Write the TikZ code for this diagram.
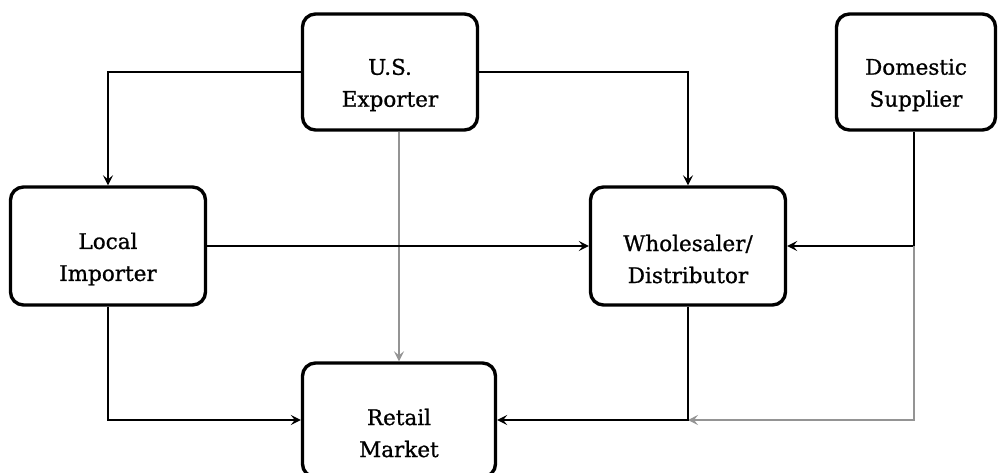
\documentclass[tikz,border=0pt]{standalone}
\usepackage{fontspec}
\setmainfont{DejaVu Serif}
\newfontfamily\lblfont{DejaVu Serif}[FakeBold=0.9]
\usetikzlibrary{arrows.meta,calc}
\begin{document}
\begin{tikzpicture}[x=1pt,y=-1pt,
  box/.style={draw=black,line width=3.4pt,rounded corners=13pt,fill=white,inner sep=0pt},
  lbl/.style={align=center,font=\lblfont\fontsize{21.5}{32}\selectfont,inner sep=0pt},
  tip/.style={-{Stealth[length=10pt,width=10pt,inset=4pt]}},
  conn/.style={draw=black,line width=1.4pt},
  faint/.style={draw=black!42,line width=1.2pt},
  heavy/.style={draw=black,line width=2.8pt}]
\useasboundingbox (0,0) rectangle (999,472);
% boxes
\node[box,minimum width=175pt,minimum height=116pt] (exp) at (390,72) {};
\node[box,minimum width=159pt,minimum height=116pt] (dom) at (916,72) {};
\node[box,minimum width=195pt,minimum height=118pt] (imp) at (108,246) {};
\node[box,minimum width=195pt,minimum height=118pt] (whl) at (688,246) {};
\node[box,minimum width=193pt,minimum height=114pt] (ret) at (399,420) {};
% labels
\node[lbl] (expT) at ([yshift=-13pt]exp.center) {U.S.\\Exporter};
\node[lbl] (domT) at ([yshift=-13pt]dom.center) {Domestic\\Supplier};
\node[lbl] (impT) at ([yshift=-13pt]imp.center) {Local\\Importer};
\node[lbl] (whlT) at ([yshift=-13pt]whl.center) {Wholesaler/\\Distributor};
\node[lbl] (retT) at ([yshift=-13pt]ret.center) {Retail\\Market};
% connectors
\coordinate (dj) at ($(dom.south)+(-2,0)$);
\coordinate (djw) at (dj |- whl.east);
\coordinate (djr) at (dj |- ret.east);
\draw[conn,tip] (exp.west) -| (imp.north);
\draw[conn,tip] (exp.east) -| (whl.north);
\draw[faint,tip] (exp.south -| ret.north) -- (ret.north);
\draw[heavy,tip] (imp.east) -- (whl.west);
\draw[heavy,tip] (dj) -- (djw) -- (whl.east);
\draw[faint,tip] (djw) -- (djr) -- (whl.south |- ret.east);
\draw[conn,tip] (imp.south) |- (ret.west);
\draw[conn,tip] (whl.south) |- (ret.east);
\end{tikzpicture}
\end{document}
